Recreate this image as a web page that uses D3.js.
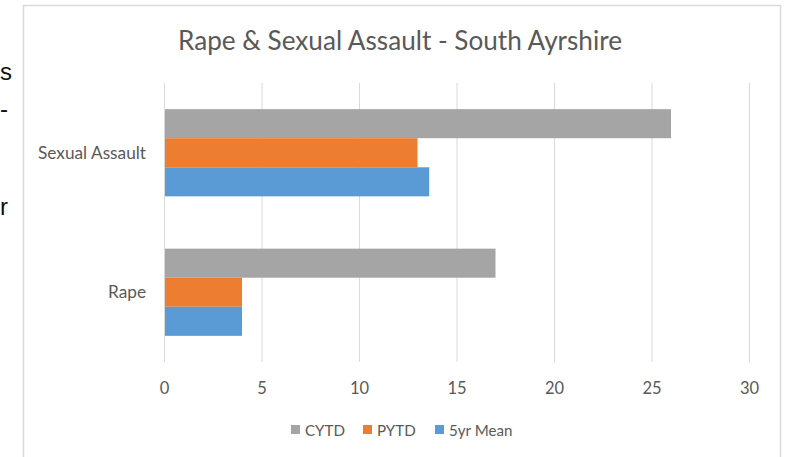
<!DOCTYPE html>
<html><head><meta charset="utf-8">
<script src="https://cdn.jsdelivr.net/npm/d3@7"></script>
<style>body{margin:0;background:#fff;overflow:hidden}svg{display:block}</style>
</head><body>
<svg id="c" width="787" height="457"></svg>
<script>
const categories = ["Sexual Assault", "Rape"];
const seriesNames = ["CYTD", "PYTD", "5yr Mean"];
const cytd = [26, 17];
const pytd = [13, 4];
const mean5 = [13.6, 4];
const tickValues = [0, 5, 10, 15, 20, 25, 30];
const colors = ["#A5A5A5", "#ED7D31", "#5B9BD5"];
const title = "Rape & Sexual Assault - South Ayrshire";
const fragments = ["s", "-", "r"];
const series = [cytd, pytd, mean5];

const svg = d3.select("#c");
const FONT = "Lato, 'Open Sans', sans-serif";
const textCol = "#595959";

function fit(sel, w) {
  const n = sel.node();
  const cur = parseFloat(sel.attr("font-size"));
  const len = n.getComputedTextLength();
  sel.attr("font-size", (cur * w / len).toFixed(2));
}

// background document fragments on the left
const fragY = [80, 117, 215];
svg.append("g").selectAll("text").data(fragments).join("text")
  .attr("x", 0).attr("y", (d, i) => fragY[i])
  .attr("font-family", "'Liberation Sans', sans-serif").attr("font-size", 24)
  .attr("fill", "#111").text(d => d);

// chart border
svg.append("rect").attr("x", 23.5).attr("y", 5.5).attr("width", 757).attr("height", 470)
  .attr("fill", "#fff").attr("stroke", "#D9D9D9").attr("stroke-width", 1.5);

const plot = {left: 164, right: 749, top: 83, bottom: 362};
const x = d3.scaleLinear().domain([0, 30]).range([plot.left, plot.right]);
const y = d3.scaleBand().domain(categories).range([plot.top, plot.bottom]).paddingInner(0).paddingOuter(0);
const groupH = y.bandwidth() / 1.6;
const ys = d3.scaleBand().domain(seriesNames).range([0, groupH]).padding(0);

// gridlines
svg.append("g").selectAll("line").data(tickValues).join("line")
  .attr("x1", d => x(d) + 0.5).attr("x2", d => x(d) + 0.5)
  .attr("y1", plot.top).attr("y2", plot.bottom)
  .attr("stroke", "#D9D9D9").attr("stroke-width", 1);

// bars
series.forEach((vals, si) => {
  svg.append("g").selectAll("rect").data(vals).join("rect")
    .attr("x", x(0) + 1)
    .attr("y", (d, i) => y(categories[i]) + (y.bandwidth() - groupH) / 2 + ys(seriesNames[si]))
    .attr("width", d => x(d) - x(0) - 1)
    .attr("height", ys.bandwidth())
    .attr("fill", colors[si]);
});

// x axis labels
const xa = d3.axisBottom(x).tickValues(tickValues).tickSize(0).tickPadding(0);
const gx = svg.append("g").attr("transform", `translate(0,${plot.bottom})`).call(xa);
gx.select(".domain").remove();
gx.selectAll("text").attr("font-family", FONT).attr("font-size", 16.5).attr("fill", textCol)
  .attr("dy", null).attr("y", 32);

// y axis labels
const ya = d3.axisLeft(y).tickSize(0).tickPadding(0);
const gy = svg.append("g").attr("transform", `translate(146,0)`).call(ya);
gy.select(".domain").remove();
gy.selectAll("text").attr("font-family", FONT).attr("font-size", 16).attr("fill", textCol)
  .attr("dy", "0.35em").attr("x", 0);
gy.selectAll("text").filter(d => d === "Sexual Assault").call(s => fit(s, 108));
const saSize = gy.selectAll("text").filter(d => d === "Sexual Assault").attr("font-size");
gy.selectAll("text").attr("font-size", saSize);

// title
const t = svg.append("text").attr("x", 400).attr("y", 50).attr("text-anchor", "middle")
  .attr("font-family", FONT).attr("font-size", 24).attr("fill", textCol).text(title);
fit(t, 444);

// legend
const legX = [291, 363, 435];
const lg = svg.append("g");
const legTexts = [];
seriesNames.forEach((n, i) => {
  lg.append("rect").attr("x", legX[i]).attr("y", 425).attr("width", 9).attr("height", 9).attr("fill", colors[i]);
  legTexts.push(lg.append("text").attr("x", legX[i] + 14).attr("y", 435.5).attr("font-family", FONT)
    .attr("font-size", 16).attr("fill", textCol).text(n));
});
fit(legTexts[0], 40);
const lgSize = legTexts[0].attr("font-size");
legTexts.forEach(s => s.attr("font-size", lgSize));
</script>
</body></html>
